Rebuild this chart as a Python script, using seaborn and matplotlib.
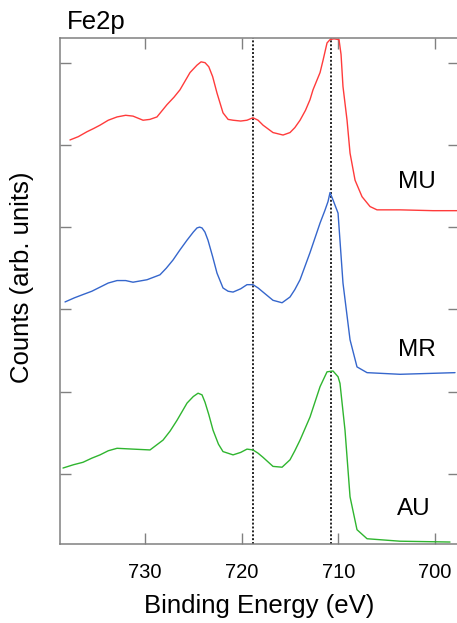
import numpy as np
import pandas as pd
import seaborn as sns
import matplotlib.pyplot as plt

# Fe2p spectra (binding energy in eV, counts offset per sample)
mu_energy = [737.76, 736.9, 736.0, 735.3, 734.65, 733.8, 732.89, 732.0, 731.24, 730.2,
             729.5, 728.76, 727.72, 727.0, 726.38, 725.34, 724.62, 724.2, 723.79, 723.4,
             723.0, 722.55, 721.93, 721.4, 720.89, 720.1, 719.45, 718.83, 718.3, 717.79,
             716.76, 715.72, 715.0, 714.5, 713.96, 713.4, 712.93, 712.62, 711.89, 711.58,
             711.17, 710.86, 710.45, 709.93, 709.72, 709.52, 709.1, 708.79, 708.27, 707.55,
             706.72, 706.0, 703.62, 700.2, 697.72]
mu_counts = [5.06, 5.10, 5.16, 5.20, 5.24, 5.30, 5.34, 5.36, 5.35, 5.30,
             5.31, 5.34, 5.49, 5.58, 5.67, 5.88, 5.97, 6.01, 6.00, 5.95,
             5.83, 5.63, 5.39, 5.31, 5.30, 5.29, 5.30, 5.33, 5.30, 5.24,
             5.15, 5.12, 5.15, 5.21, 5.30, 5.42, 5.55, 5.67, 5.88, 6.03,
             6.24, 6.28, 6.29, 6.28, 6.10, 5.71, 5.30, 4.90, 4.57, 4.37,
             4.25, 4.21, 4.21, 4.20, 4.20]

mr_energy = [738.27, 737.3, 736.41, 735.5, 734.65, 733.8, 732.89, 732.0, 731.24, 729.79,
             728.45, 727.8, 727.1, 726.4, 725.66, 725.0, 724.62, 724.35, 724.1, 723.8,
             723.48, 723.0, 722.55, 721.93, 721.4, 720.89, 720.1, 719.45, 718.83, 718.3,
             717.79, 716.76, 715.82, 715.0, 714.5, 713.96, 712.93, 711.89, 711.4, 711.07,
             710.86, 710.55, 710.03, 709.52, 708.79, 708.07, 707.03, 703.62, 697.93]
mr_counts = [3.09, 3.14, 3.18, 3.22, 3.27, 3.32, 3.35, 3.35, 3.33, 3.36,
             3.42, 3.50, 3.60, 3.72, 3.84, 3.94, 3.99, 4.00, 3.99, 3.94,
             3.84, 3.64, 3.44, 3.26, 3.22, 3.21, 3.25, 3.30, 3.30, 3.26,
             3.21, 3.11, 3.08, 3.15, 3.24, 3.36, 3.69, 4.05, 4.20, 4.31,
             4.42, 4.33, 4.17, 3.32, 2.63, 2.30, 2.23, 2.21, 2.23]

au_energy = [738.48, 737.4, 736.41, 735.5, 734.65, 733.8, 732.89, 731.24, 729.48, 728.13,
             727.4, 726.69, 725.65, 725.0, 724.51, 724.1, 723.79, 723.4, 722.96, 722.4,
             721.93, 720.89, 720.1, 719.45, 718.83, 718.3, 717.79, 716.76, 715.82, 715.0,
             714.5, 713.96, 712.93, 711.89, 711.17, 710.55, 710.03, 709.83, 709.31, 708.79,
             708.07, 707.03, 703.62, 698.45]
au_counts = [1.07, 1.11, 1.14, 1.19, 1.23, 1.28, 1.31, 1.30, 1.29, 1.41,
             1.52, 1.65, 1.86, 1.94, 1.98, 1.96, 1.87, 1.72, 1.53, 1.36,
             1.27, 1.23, 1.26, 1.30, 1.29, 1.25, 1.20, 1.09, 1.08, 1.17,
             1.28, 1.41, 1.69, 2.06, 2.24, 2.25, 2.18, 2.10, 1.53, 0.72,
             0.32, 0.21, 0.18, 0.17]

samples = ["MU", "MR", "AU"]
colors = {"MU": "#ff3b3b", "MR": "#3566cc", "AU": "#2fb52f"}
label_pos = {"MU": (701.86, 4.55), "MR": (701.86, 2.51), "AU": (702.17, 0.57)}
ref_lines = [718.85, 710.8]

df = pd.concat([
    pd.DataFrame({"energy": mu_energy, "counts": mu_counts, "sample": "MU"}),
    pd.DataFrame({"energy": mr_energy, "counts": mr_counts, "sample": "MR"}),
    pd.DataFrame({"energy": au_energy, "counts": au_counts, "sample": "AU"}),
])

sns.set_style("ticks")
plt.rcParams["font.family"] = ["Liberation Sans", "DejaVu Sans"]
plt.rcParams["text.color"] = "black"
plt.rcParams["axes.labelcolor"] = "black"

fig = plt.figure(figsize=(4.57, 6.23), dpi=100)
ax = fig.add_axes([0.1313, 0.1268, 0.872, 0.8122])

sns.lineplot(data=df, x="energy", y="counts", hue="sample", palette=colors,
             estimator=None, linewidth=1.0, legend=False, ax=ax)

for e in ref_lines:
    ax.axvline(e, color="#222222", linestyle=(0, (1, 1)), linewidth=1.4, zorder=1)

for s in samples:
    ax.text(*label_pos[s], s, fontsize=17.5, ha="center", va="center")

ax.set_xlim(738.79, 697.57)
ax.set_ylim(0.146, 6.30)
ax.set_xticks([730, 720, 710, 700])
ax.set_yticks([1, 2, 3, 4, 5, 6])
ax.set_yticklabels([])
ax.tick_params(direction="in", length=8, width=1.0, color="#808080",
               top=True, right=True, labelsize=14.5, labelcolor="black")
ax.tick_params(axis="x", pad=14)
for sp in ax.spines.values():
    sp.set_color("#808080")
    sp.set_linewidth(1.1)

ax.set_xlabel("Binding Energy (eV)", fontsize=18.5, labelpad=8)
ax.set_ylabel("Counts (arb. units)", fontsize=18.5)
ax.yaxis.set_label_coords(-0.065, 0.528)

fig.text(67 / 457, 1 - 29.5 / 623, "Fe2p", fontsize=18.5, ha="left", va="baseline")

fig.savefig("out.png", dpi=100)
